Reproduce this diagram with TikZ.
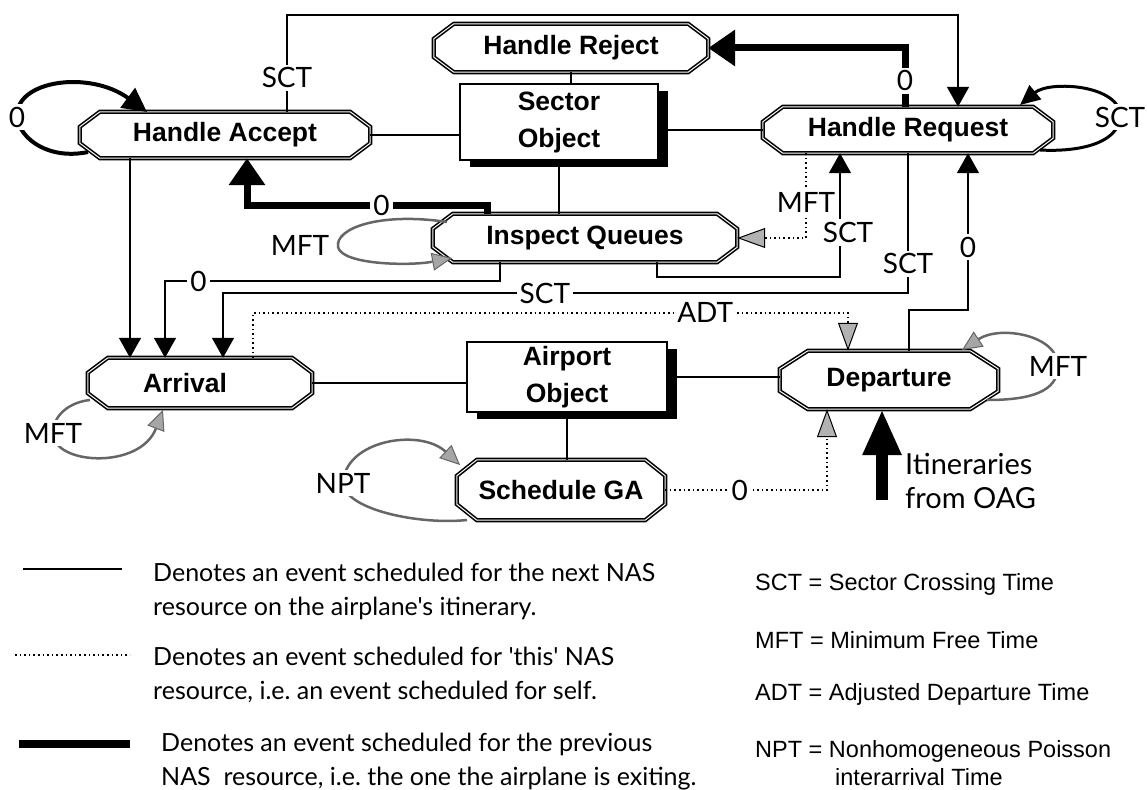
\documentclass[tikz,border=0pt]{standalone}
\usepackage{fontspec}
\setmainfont{Liberation Sans}
\newfontfamily\labfont{Lato}[Ligatures=TeXOff]
\usetikzlibrary{arrows.meta,shadows}
\frenchspacing

\tikzset{
  event/.style={rectangle, inner sep=0pt, minimum height=46pt,
    font=\bfseries\fontsize{26.5}{30}\selectfont},
  frame/.style={line width=1.6pt, double, double distance=1pt},
  object/.style={rectangle, draw, line width=2.5pt, fill=white, inner sep=0pt, align=center,
    drop shadow={shadow xshift=10pt, shadow yshift=-7pt, fill=black, opacity=1},
    font=\bfseries\fontsize{26.5}{37}\selectfont},
  lbl/.style={fill=white, inner sep=3pt, font=\labfont\fontsize{28}{30}\selectfont},
  link/.style={line width=1.6pt},
  nextev/.style={line width=1.6pt, -{Triangle[length=20pt,width=22pt]}},
  prevev/.style={line width=7pt, -{Triangle[length=27pt,width=35pt]}},
  selfev/.style={line width=1.6pt, dash pattern=on 1.6pt off 3pt,
    -{Triangle[length=28pt,width=20pt,fill=black!30,line width=1pt]}},
  backloop/.style={line width=4pt, -{Triangle[length=24pt,width=24pt]}},
  sctloop/.style={line width=3pt, -{Triangle[length=20pt,width=18pt]}},
  selfloop/.style={draw=black!60, line width=2.5pt,
    -{Triangle[length=20pt,width=18pt,fill=black!35,line width=1pt]}},
  desc/.style={anchor=west, align=left, inner sep=0pt, font=\labfont\fontsize{25}{34}\selectfont},
  abbr/.style={anchor=west, align=left, inner sep=0pt, font=\fontsize{23.5}{28}\selectfont},
}
% octagon round an event node: name, x cut, y cut
\newcommand\eventframe[3]{\draw[frame] ([xshift=#2]#1.north west) -- ([xshift=-#2]#1.north east)
  -- ([yshift=-#3]#1.north east) -- ([yshift=#3]#1.south east) -- ([xshift=-#2]#1.south east)
  -- ([xshift=#2]#1.south west) -- ([yshift=#3]#1.south west) -- ([yshift=-#3]#1.north west) -- cycle;}

\begin{document}
\begin{tikzpicture}[x=1pt,y=-1pt]
  \useasboundingbox (0,0) rectangle (1147,789);
  % objects and their events
  \node[object, minimum width=198pt, minimum height=76pt] (sector) at (559,122) {Sector\\Object};
  \node[object, minimum width=200pt, minimum height=70pt] (airport) at (567,377) {Airport\\Object};
  \node[event, minimum width=290pt] (accept) at (225,135) {Handle Accept};
  \node[event, minimum width=274pt, minimum height=48pt] (reject) at (571,48) {Handle Reject};
  \node[event, minimum width=290pt] (request) at (908,130) {Handle Request};
  \node[event, minimum width=304pt, minimum height=48pt] (inspect) at (585,238) {Inspect Queues};
  \node[event, minimum width=224pt, minimum height=50pt] (arrival) at (200,383) {Arrival\hspace*{30pt}};
  \node[event, minimum width=218pt, minimum height=58pt] (departure) at (889,380) {Departure};
  \node[event, minimum width=208pt, minimum height=60pt] (schedga) at (561,490) {Schedule GA};
  \eventframe{accept}{20pt}{15pt}
  \eventframe{reject}{20pt}{15pt}
  \eventframe{request}{20pt}{15pt}
  \eventframe{inspect}{20pt}{15pt}
  \eventframe{arrival}{20pt}{15pt}
  \eventframe{departure}{28pt}{18pt}
  \eventframe{schedga}{20pt}{16pt}

  \draw[link] (accept.east) -- (accept.east -| sector.west);
  \draw[link] (request.west -| sector.east) -- (request.west);
  \draw[link] (reject.south) -- (reject.south |- sector.north);
  \draw[link] (sector.south) -- (sector.south |- inspect.north);
  \draw[link] (arrival.east) -- (arrival.east -| airport.west);
  \draw[link] (airport.east) -- (airport.east -| departure.west);
  \draw[link] (airport.south) -- (airport.south |- schedga.north);

  % next resource
  \draw[nextev] ([xshift=62pt]accept.north) -- node[lbl, pos=.35] (l1) {SCT} ++(0,-97) -| ([xshift=50pt]request.north);
  \draw[nextev] ([xshift=-95pt]accept.south) -- ([xshift=-95pt]accept.south |- arrival.north);
  \draw[nextev] ([xshift=-85pt]inspect.south) -- ++(0,19) -| node[lbl, pos=.45] (l2) {0} ([xshift=-35pt]arrival.north);
  \draw[nextev] (request.south) -- node[lbl, pos=.79] (l3) {SCT} ++(0,140) -| node[lbl, pos=.265] (l4) {SCT} ([xshift=23pt]arrival.north);
  \draw[nextev] ([xshift=72pt]inspect.south) -- ++(0,15) -| node[lbl, pos=.68, xshift=8pt] (l5) {SCT} ([xshift=-68pt]request.south);
  \draw[nextev] ([xshift=20pt]departure.north) -- ++(0,-41) -| node[lbl, pos=.7] (l6) {0} ([xshift=60pt]request.south);

  % previous resource
  \draw[prevev] ([xshift=-3pt]request.north) |- node[lbl, pos=.22] (l7) {0} (reject.east);
  \draw[prevev] ([xshift=-98pt]inspect.north) -- ++(0,-8) -| node[lbl, pos=.22] (l8) {0} ([xshift=22pt]accept.south);

  % this resource
  \draw[selfev] ([xshift=-102pt]request.south) |- node[lbl, pos=.29] (l9) {MFT} (inspect.east);
  \draw[selfev] ([xshift=53pt]arrival.north) -- ++(0,-45) -| node[lbl, pos=.38] (l10) {ADT} ([xshift=-41pt]departure.north);
  \draw[selfev] (schedga.east) -| node[lbl, pos=.23] (l11) {0} ([xshift=-62pt]departure.south);

  % loops
  \draw[backloop] ([xshift=-137pt,yshift=-17pt]accept.center) .. controls (50,160) and (20,140) .. (17,117) node[lbl] (l12) {0}
    .. controls (15,80) and (90,70) .. ([xshift=-78pt,yshift=23pt]accept.center);
  \draw[sctloop] ([xshift=132pt,yshift=-20pt]request.center) .. controls (1075,152) and (1118,145) .. (1120,117) node[lbl] (l13) {SCT}
    .. controls (1122,85) and (1050,80) .. ([xshift=112pt,yshift=25pt]request.center);
  \draw[selfloop] ([xshift=-138pt,yshift=16pt]inspect.center) .. controls (380,212) and (335,228) .. (338,247)
    .. controls (342,265) and (410,266) .. ([xshift=-133pt,yshift=-20pt]inspect.center);
  \node[lbl] (l14) at (300,245) {MFT};
  \draw[selfloop] ([xshift=-110pt,yshift=-17pt]arrival.center) .. controls (70,402) and (53,415) .. (53,433) node[lbl] (l15) {MFT}
    .. controls (53,465) and (140,470) .. ([xshift=-37pt,yshift=-27pt]arrival.center);
  \draw[selfloop] ([xshift=98pt,yshift=-20pt]departure.center) .. controls (1030,400) and (1058,392) .. (1058,366) node[lbl] (l16) {MFT}
    .. controls (1058,335) and (1000,325) .. ([xshift=73pt,yshift=30pt]departure.center);
  \draw[selfloop] ([xshift=-94pt,yshift=-30pt]schedga.center) .. controls (420,525) and (345,510) .. (343,483) node[lbl] (l17) {NPT}
    .. controls (345,440) and (420,428) .. ([xshift=-101pt,yshift=25pt]schedga.center);

  % itineraries
  \node[lbl, anchor=west, align=left, font=\labfont\fontsize{29}{34}\selectfont] (oag) at (902,481) {Itineraries\\from OAG};
  \coordinate (oagfoot) at (882,500);
  \draw[line width=12pt, -{Triangle[length=46pt,width=36pt]}] (oagfoot) -- ([xshift=-7pt]departure.south);

  % legend
  \coordinate (k1a) at (23,569); \coordinate (k1b) at (122,569);
  \coordinate (k2a) at (15,655); \coordinate (k2b) at (130,655);
  \coordinate (k3a) at (19,744); \coordinate (k3b) at (130,744);
  \draw[line width=2pt] (k1a) -- (k1b);
  \draw[line width=1.6pt, dash pattern=on 1.6pt off 3pt] (k2a) -- (k2b);
  \draw[line width=8pt] (k3a) -- (k3b);
  \node[desc] (d1) at (153,591) {Denotes an event scheduled for the next NAS\\resource on the airplane's itinerary.};
  \node[desc] (d2) at (153,675) {Denotes an event scheduled for 'this' NAS\\resource, i.e. an event scheduled for self.};
  \node[desc] (d3) at (161,762) {Denotes an event scheduled for the previous\\NAS\ \ resource, i.e. the one the airplane is exiting.};
  \node[abbr] (a1) at (755,584) {SCT = Sector Crossing Time};
  \node[abbr] (a2) at (755,640) {MFT = Minimum Free Time};
  \node[abbr] (a3) at (755,694) {ADT = Adjusted Departure Time};
  \node[abbr] (a4) at (755,763) {NPT = Nonhomogeneous Poisson\\\hspace*{80pt}interarrival Time};
\end{tikzpicture}
\end{document}
